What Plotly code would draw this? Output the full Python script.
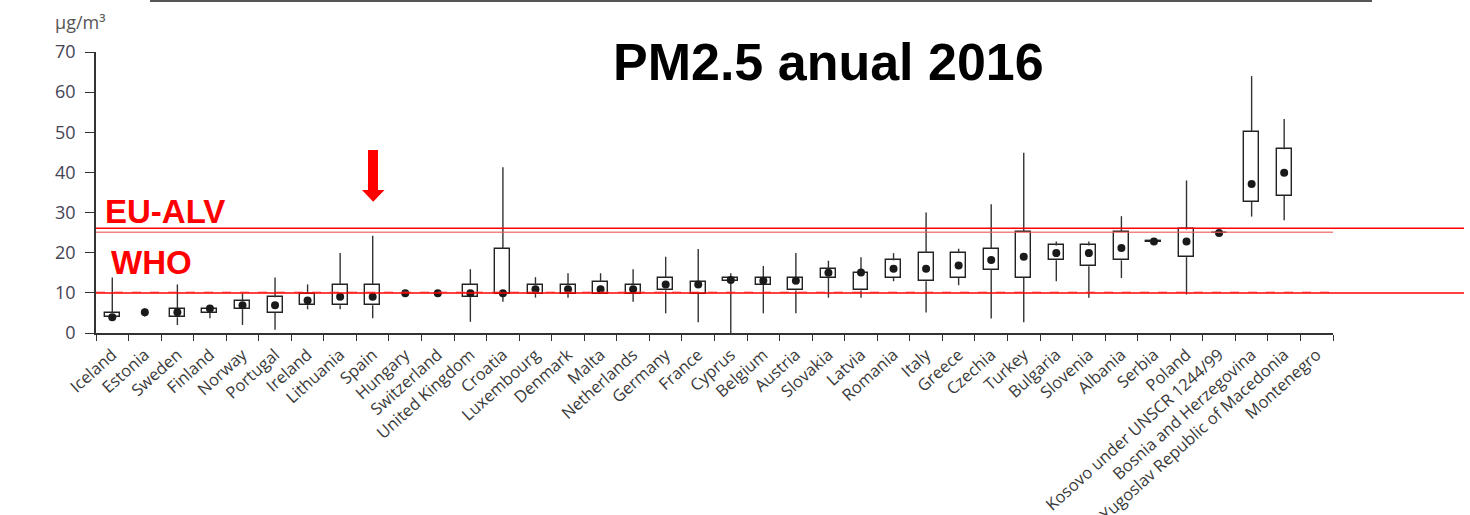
import plotly.graph_objects as go

countries = ["Iceland", "Estonia", "Sweden", "Finland", "Norway", "Portugal", "Ireland",
             "Lithuania", "Spain", "Hungary", "Switzerland", "United Kingdom", "Croatia",
             "Luxembourg", "Denmark", "Malta", "Netherlands", "Germany", "France", "Cyprus",
             "Belgium", "Austria", "Slovakia", "Latvia", "Romania", "Italy", "Greece",
             "Czechia", "Turkey", "Bulgaria", "Slovenia", "Albania", "Serbia", "Poland",
             "Kosovo under UNSCR 1244/99", "Bosnia and Herzegovina",
             "Former Yugoslav Republic of Macedonia", "Montenegro"]

p_min = [3.9, 4.1, 2.0, 3.7, 2.0, 0.8, 5.9, 5.9, 3.7, 9.9, 9.9, 2.8, 7.8, 8.8, 8.8, 9.7,
         7.8, 4.9, 2.7, 0.0, 4.9, 4.9, 8.8, 8.8, 12.9, 5.1, 11.9, 3.6, 2.7, 12.9, 8.8,
         13.7, 22.7, 9.6, 24.8, 29.0, 28.1, None]
p25 = [3.9, 5.2, 3.9, 5.1, 5.9, 5.1, 6.9, 6.9, 6.9, 9.9, 9.9, 8.9, 9.7, 9.7, 9.7, 9.7,
       9.7, 10.6, 9.7, 13.0, 12.0, 10.6, 13.8, 10.6, 13.7, 12.9, 13.7, 15.8, 13.7, 18.1,
       16.6, 18.1, 22.7, 18.9, 24.8, 32.7, 34.2, None]
p50 = [3.9, 5.2, 5.2, 6.1, 6.9, 6.9, 8.1, 9.0, 9.0, 9.9, 9.9, 9.9, 9.9, 10.9, 10.9, 10.9,
       10.9, 12.1, 12.1, 13.2, 13.0, 13.0, 15.0, 15.1, 16.0, 16.0, 16.8, 18.2, 19.0, 19.9,
       19.9, 21.2, 22.8, 22.8, 24.9, 37.1, 39.9, None]
p75 = [5.1, 5.2, 6.0, 6.0, 8.0, 8.9, 9.7, 12.0, 12.0, 9.9, 9.9, 12.0, 20.9, 12.0, 12.0,
       12.8, 12.0, 13.8, 12.8, 13.8, 13.8, 13.8, 15.9, 14.9, 18.1, 19.9, 19.9, 21.0, 25.1,
       21.8, 21.8, 25.1, 23.0, 25.8, 25.0, 50.1, 45.8, None]
p_max = [13.8, 6.1, 12.1, 6.9, 9.9, 13.8, 12.1, 19.9, 24.2, 9.9, 9.9, 15.9, 41.3, 13.9,
         14.9, 14.9, 15.9, 19.0, 20.9, 14.9, 16.7, 19.9, 18.0, 18.9, 19.9, 30.0, 21.0,
         32.1, 44.9, 22.8, 22.8, 29.1, 23.0, 38.0, 25.0, 64.0, 53.3, None]

eu_alv_value = 26.1
eu_limit_value = 25.1
who_value = 9.95
who_dashed_value = 10.2

y_ticks = [0, 10, 20, 30, 40, 50, 60, 70]

# plot-area geometry in page pixels (page body margin removed below)
L, R, T, B = 96, 1333, 52, 333
W, H = R - L, B - T


def px(x):
    return (x - L) / W


def py(y):
    return (B - y) / H


# whisker segments (min -> q1, q3 -> max)
wx, wy = [], []
for c, lo, q1, q3, hi in zip(countries, p_min, p25, p75, p_max):
    if lo is None:
        continue
    if q1 > lo:
        wx += [c, c, None]
        wy += [lo, q1, None]
    if hi > q3:
        wx += [c, c, None]
        wy += [q3, hi, None]

# box bars where q3 > q1
bar_h, bar_base = [], []
for q1, q3 in zip(p25, p75):
    if q1 is not None and q3 > q1:
        bar_h.append(q3 - q1)
        bar_base.append(q1)
    else:
        bar_h.append(None)
        bar_base.append(None)

fig = go.Figure()
fig.add_trace(go.Bar(x=countries, y=bar_h, base=bar_base, width=0.46,
                     marker=dict(color="white", line=dict(color="#222222", width=1.4)),
                     showlegend=False, hoverinfo="skip"))
fig.add_trace(go.Scatter(x=wx, y=wy, mode="lines",
                         line=dict(color="#333333", width=1.4),
                         showlegend=False, hoverinfo="skip"))
fig.add_trace(go.Scatter(x=countries, y=p50, mode="markers",
                         marker=dict(color="#1a1a1a", size=8),
                         showlegend=False))

shapes = [
    # top rule
    dict(type="line", xref="paper", yref="paper", x0=px(150), x1=px(1372),
         y0=py(1), y1=py(1), line=dict(color="#555555", width=2)),
    # original light lines
    dict(type="line", xref="paper", yref="y", x0=0, x1=1, y0=eu_limit_value,
         y1=eu_limit_value, line=dict(color="rgba(240,90,90,0.75)", width=1.5)),
    dict(type="line", xref="paper", yref="y", x0=0, x1=1, y0=who_dashed_value,
         y1=who_dashed_value, line=dict(color="rgba(240,90,90,0.75)", width=1.2, dash="dash")),
    # overlay red lines
    dict(type="line", xref="paper", yref="y", x0=0, x1=px(1464), y0=eu_alv_value,
         y1=eu_alv_value, line=dict(color="#ff0000", width=1.5)),
    dict(type="line", xref="paper", yref="y", x0=0, x1=px(1464), y0=who_value,
         y1=who_value, line=dict(color="#ff0000", width=1.5)),
    # red arrow
    dict(type="path", xref="paper", yref="paper",
         path=(f"M {px(368)} {py(150)} L {px(378)} {py(150)} L {px(378)} {py(190)} "
               f"L {px(384.5)} {py(190)} L {px(373.2)} {py(201.7)} L {px(362)} {py(190)} "
               f"L {px(368)} {py(190)} Z"),
         fillcolor="#ff0000", line=dict(color="#ff0000", width=0)),
]

annotations = [
    dict(text="µg/m³", xref="paper", yref="paper", x=px(53), y=py(22),
         xanchor="left", yanchor="middle", showarrow=False,
         font=dict(family="Open Sans", size=18, color="#555555")),
    dict(text="<b>PM2.5 anual 2016</b>", xref="paper", yref="paper", x=px(828.5), y=py(62),
         xanchor="center", yanchor="middle", showarrow=False,
         font=dict(family="Liberation Sans, Arial", size=52, color="#000000")),
    dict(text="<b>EU-ALV</b>", xref="paper", yref="paper", x=px(103), y=py(212),
         xanchor="left", yanchor="middle", showarrow=False,
         font=dict(family="Liberation Sans, Arial", size=33, color="#ff0000")),
    dict(text="<b>WHO</b>", xref="paper", yref="paper", x=px(109), y=py(262),
         xanchor="left", yanchor="middle", showarrow=False,
         font=dict(family="Liberation Sans, Arial", size=33, color="#ff0000")),
]

fig.update_layout(
    width=1470, height=515,
    margin=dict(l=L, r=1470 - R, t=T, b=515 - B, autoexpand=False),
    plot_bgcolor="white", paper_bgcolor="white",
    showlegend=False, bargap=0,
    shapes=shapes, annotations=annotations,
    xaxis=dict(type="category", categoryorder="array", categoryarray=countries,
               range=[-0.5, len(countries) - 0.5], automargin=False,
               showgrid=False, zeroline=False, showline=True, linecolor="#333333",
               linewidth=1.5, ticks="outside", tickson="boundaries", ticklen=6,
               tickcolor="#333333", tickwidth=1.2, tickangle=-42, ticklabelstandoff=4,
               tickfont=dict(family="Open Sans", size=16.5, color="#3a3a3a")),
    yaxis=dict(range=[0, 70], tickvals=y_ticks, showgrid=False, zeroline=False,
               automargin=False,
               showline=True, linecolor="#333333", linewidth=1.5, ticks="outside",
               ticklen=9, tickcolor="#333333", tickwidth=1.2, ticklabelstandoff=6,
               tickfont=dict(family="Open Sans", size=18, color="#444455")),
)

fig.write_html("out.html", config={"displayModeBar": False},
               post_script="document.body.style.margin = '0px';")
